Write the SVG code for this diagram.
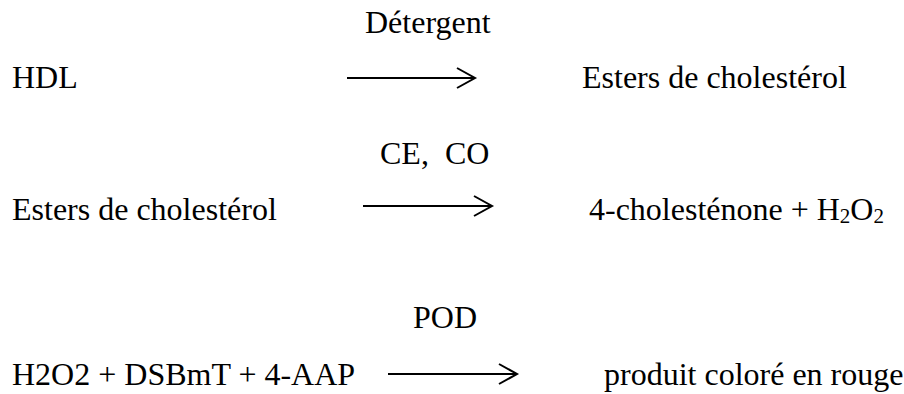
<svg xmlns="http://www.w3.org/2000/svg" width="904" height="394" viewBox="0 0 904 394">
<style>
text{font-family:'Liberation Serif','DejaVu Serif',serif;font-size:32px;fill:#000;white-space:pre}
.arr{fill:none;stroke:#000;stroke-width:2}
.head{fill:none;stroke:#000;stroke-width:2;stroke-linejoin:miter}
.sub{font-size:21px}
</style>
<rect width="904" height="394" fill="#fff"/>
<g id="r1-left"><text x="12" y="88">HDL</text></g>
<g id="r1-label"><text x="365" y="33">Détergent</text></g>
<g id="r1-right"><text x="582" y="88">Esters de cholestérol</text></g>
<g id="r2-left"><text x="12" y="220">Esters de cholestérol</text></g>
<g id="r2-label"><text x="380" y="164">CE,  CO</text></g>
<g id="r2-right"><text x="589" y="220">4-cholesténone + H<tspan class="sub" dy="3">2</tspan><tspan dy="-3">O</tspan><tspan class="sub" dy="3">2</tspan></text></g>
<g id="r3-left"><text x="12" y="385">H2O2 + DSBmT + 4-AAP</text></g>
<g id="r3-label"><text x="413" y="328">POD</text></g>
<g id="r3-right"><text x="604" y="385">produit coloré en rouge</text></g>
<g id="connectors">
<line class="arr" x1="347" y1="78" x2="474" y2="78"/>
<polyline class="head" points="457,68 475,78 457,88"/>
<line class="arr" x1="363" y1="206" x2="491" y2="206"/>
<polyline class="head" points="474,196 492,206 474,216"/>
<line class="arr" x1="388" y1="374" x2="516" y2="374"/>
<polyline class="head" points="499,364 517,374 499,384"/>
</g>
</svg>
